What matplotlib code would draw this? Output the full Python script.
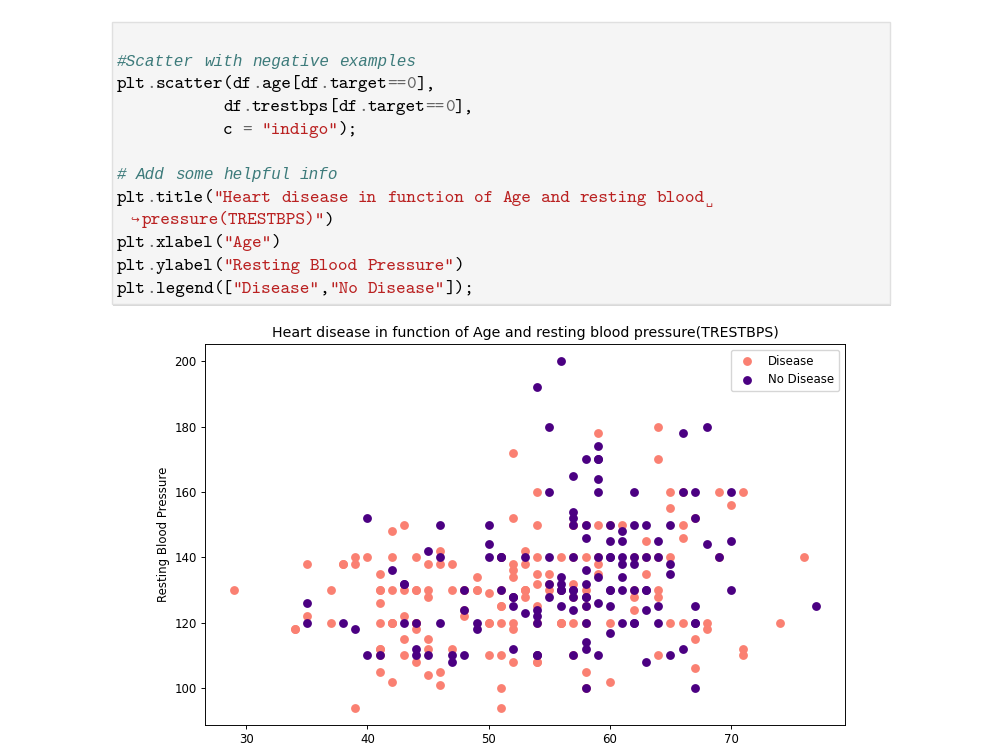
import matplotlib
matplotlib.use("Agg")
import matplotlib.pyplot as plt
from matplotlib.patches import Rectangle

# ---------------- data ----------------
age_disease = [63, 37, 41, 56, 57, 57, 56, 44, 52, 57, 54, 48, 49, 64, 58, 50, 58, 66, 43, 69,
               59, 44, 42, 61, 40, 71, 59, 51, 65, 53, 41, 65, 44, 54, 51, 46, 54, 54, 65, 65,
               51, 48, 45, 53, 39, 52, 44, 47, 53, 53, 51, 66, 62, 44, 63, 52, 48, 45, 34, 57,
               71, 54, 52, 41, 58, 35, 51, 45, 44, 62, 54, 51, 29, 51, 43, 55, 51, 59, 52, 58,
               41, 45, 60, 52, 42, 67, 68, 46, 54, 58, 48, 57, 52, 54, 45, 53, 62, 52, 43, 53,
               42, 59, 63, 42, 50, 68, 69, 45, 50, 50, 64, 57, 64, 43, 55, 37, 41, 56, 46, 46,
               64, 59, 41, 54, 39, 34, 47, 67, 52, 74, 54, 49, 42, 41, 41, 49, 60, 62, 57, 64,
               51, 43, 42, 67, 76, 70, 44, 60, 44, 42, 66, 71, 64, 66, 39, 58, 47, 35, 58, 56,
               56, 55, 41, 38, 38]
bps_disease = [145, 130, 130, 120, 120, 140, 140, 120, 172, 150, 140, 130, 130, 110, 150, 120, 120, 150, 150, 140,
               135, 130, 140, 150, 140, 160, 150, 110, 140, 130, 105, 120, 130, 125, 125, 142, 135, 150, 155, 160,
               140, 130, 104, 130, 140, 120, 140, 138, 128, 138, 130, 120, 130, 108, 135, 134, 122, 115, 118, 128,
               110, 108, 118, 135, 140, 138, 100, 130, 120, 124, 120, 94, 130, 140, 122, 135, 125, 140, 128, 105,
               112, 128, 102, 152, 102, 115, 118, 101, 110, 100, 124, 132, 138, 132, 112, 142, 140, 108, 130, 130,
               148, 178, 140, 120, 129, 120, 160, 138, 120, 110, 180, 150, 140, 110, 130, 120, 130, 120, 105, 138,
               130, 138, 112, 108, 94, 118, 112, 152, 136, 120, 160, 134, 120, 110, 126, 130, 120, 128, 110, 128,
               120, 115, 120, 106, 140, 156, 118, 150, 120, 130, 160, 112, 170, 146, 138, 130, 130, 122, 125, 130,
               120, 132, 120, 138, 138]

age_no_disease = [67, 67, 62, 63, 53, 56, 48, 58, 58, 60, 40, 60, 64, 43, 57, 55, 65, 61, 58, 50,
                  44, 60, 54, 50, 41, 51, 58, 54, 60, 60, 59, 46, 67, 62, 65, 44, 60, 58, 68, 62,
                  52, 59, 60, 49, 59, 57, 61, 39, 61, 56, 43, 62, 63, 65, 48, 63, 55, 65, 56, 54,
                  70, 62, 35, 59, 64, 47, 57, 55, 64, 70, 51, 58, 60, 77, 35, 70, 59, 64, 57, 56,
                  48, 56, 66, 54, 69, 51, 43, 62, 67, 59, 45, 58, 50, 62, 38, 66, 52, 53, 63, 54,
                  66, 55, 49, 54, 56, 46, 61, 67, 58, 47, 52, 58, 57, 58, 61, 42, 52, 59, 40, 61,
                  46, 59, 57, 57, 55, 61, 58, 58, 67, 44, 63, 63, 59, 57, 45, 68, 57, 57]
bps_no_disease = [160, 120, 140, 130, 140, 130, 110, 120, 132, 130, 110, 117, 140, 120, 150, 132, 150, 130, 112, 150,
                  112, 130, 124, 140, 110, 130, 128, 120, 145, 140, 170, 150, 125, 120, 110, 110, 125, 150, 180, 160,
                  128, 110, 150, 120, 140, 128, 120, 118, 145, 125, 132, 130, 130, 135, 130, 150, 140, 138, 200, 110,
                  145, 120, 120, 170, 125, 108, 165, 160, 120, 130, 140, 125, 140, 125, 126, 160, 174, 145, 152, 132,
                  124, 134, 160, 192, 140, 140, 132, 138, 100, 160, 142, 128, 144, 150, 120, 178, 112, 123, 108, 110,
                  112, 180, 118, 122, 130, 120, 134, 120, 100, 110, 125, 146, 124, 136, 138, 136, 128, 126, 152, 140,
                  140, 134, 154, 110, 128, 148, 114, 170, 152, 120, 140, 124, 164, 140, 110, 144, 130, 130]

chart_title = "Heart disease in function of Age and resting blood pressure(TRESTBPS)"
y_label = "Resting Blood Pressure"
legend_labels = ["Disease", "No Disease"]
x_ticks = [30, 40, 50, 60, 70]
y_ticks = [100, 120, 140, 160, 180, 200]

# code cell text: (text, kind)  kinds: n=name p=punct o=operator m=number s=string c=comment
code_lines = [
    [("#Scatter with negative examples", "c")],
    [("plt", "n"), (".", "o"), ("scatter", "n"), ("(", "p"), ("df", "n"), (".", "o"), ("age", "n"),
     ("[", "p"), ("df", "n"), (".", "o"), ("target", "n"), ("==", "o"), ("0", "m"), ("],", "p")],
    [(" " * 11, "p"), ("df", "n"), (".", "o"), ("trestbps", "n"), ("[", "p"), ("df", "n"), (".", "o"),
     ("target", "n"), ("==", "o"), ("0", "m"), ("],", "p")],
    [(" " * 11, "p"), ("c", "n"), (" ", "p"), ("=", "o"), (" ", "p"), ('"indigo"', "s"), (");", "p")],
    [],
    [("# Add some helpful info", "c")],
    [("plt", "n"), (".", "o"), ("title", "n"), ("(", "p"),
     ('"Heart disease in function of Age and resting blood', "s")],
    [('pressure(TRESTBPS)"', "s"), (")", "p")],
    [("plt", "n"), (".", "o"), ("xlabel", "n"), ("(", "p"), ('"Age"', "s"), (")", "p")],
    [("plt", "n"), (".", "o"), ("ylabel", "n"), ("(", "p"), ('"Resting Blood Pressure"', "s"), (")", "p")],
    [("plt", "n"), (".", "o"), ("legend", "n"), ("([", "p"), ('"Disease"', "s"), (",", "p"),
     ('"No Disease"', "s"), ("]);", "p")],
]

# ---------------- figure ----------------
DPI = 100
fig = plt.figure(figsize=(10, 7.5), dpi=DPI)
fig.patch.set_facecolor("white")

bg = fig.add_axes([0, 0, 1, 1])
bg.set_xlim(0, 1000)
bg.set_ylim(750, 0)
bg.axis("off")

# code box
bg.add_patch(Rectangle((113, 24), 778, 282, facecolor="#d8d8d8", edgecolor="none", zorder=0))
bg.add_patch(Rectangle((112, 22), 778, 282, facecolor="#f5f5f5", edgecolor="#e0e0e0",
                       linewidth=1, zorder=1))

kind_color = {"n": "black", "p": "black", "o": "#666666", "m": "#666666",
              "s": "#BA2121", "c": "#3D7B7B"}

CW = 9.64                      # character advance in px
X0 = 117.0
BASE0 = 65.6
LH = 22.7
code_fs = CW / 0.525 * 72 / DPI      # cmtt10 advance 0.525 em
comm_fs = CW / 0.600 * 72 / DPI      # Liberation Mono advance 0.6 em


def draw_line(tokens, x_start, y):
    chars = []
    for txt, kind in tokens:
        for ch in txt:
            chars.append((ch, kind))
    i = 0
    while i < len(chars):
        ch, kind = chars[i]
        if ch == " ":
            i += 1
            continue
        j = i
        run = ""
        while j < len(chars) and chars[j][0] != " " and chars[j][1] == kind:
            run += chars[j][0]
            j += 1
        if kind == "c":
            bg.text(x_start + i * CW, y, run, family="Liberation Mono", style="italic",
                    fontsize=comm_fs, color=kind_color[kind], va="baseline", ha="left", zorder=3)
        else:
            bg.text(x_start + i * CW, y, run, family=["cmtt10", "DejaVu Sans Mono"],
                    fontsize=code_fs, color=kind_color[kind], va="baseline", ha="left", zorder=3)
        i = j


for li, tokens in enumerate(code_lines):
    y = BASE0 + li * LH
    if li == 7:
        bg.text(130.5, y - 1, "\u21aa", family="DejaVu Sans", fontsize=7.5,
                color="#BA2121", va="baseline", ha="left", zorder=3)
        draw_line(tokens, 141.5, y)
    else:
        draw_line(tokens, X0, y)
    if li == 6:
        bg.text(705, y + 2, "\u2423", family="DejaVu Sans", fontsize=8,
                color="#BA2121", va="baseline", ha="left", zorder=3)

# ---------------- chart ----------------
k = 0.846  # scale relative to matplotlib defaults
ax = fig.add_axes([0.205, 1 - 725 / 750, 0.64, (725 - 344) / 750])
ax.scatter(age_disease, bps_disease, c="salmon", s=(6 * k) ** 2, linewidths=1.5 * k)
ax.scatter(age_no_disease, bps_no_disease, c="indigo", s=(6 * k) ** 2, linewidths=1.5 * k)
ax.set_title(chart_title, fontsize=12 * k, pad=6 * k)
ax.set_ylabel(y_label, fontsize=10 * k, labelpad=4 * k)
ax.set_xticks(x_ticks)
ax.set_yticks(y_ticks)
ax.tick_params(labelsize=10 * k, length=3.5 * k, width=0.8 * k, pad=3.5 * k)
for sp in ax.spines.values():
    sp.set_linewidth(0.8 * k)
ax.legend(legend_labels, loc="upper right", fontsize=10 * k)

fig.savefig("out.png", dpi=DPI)
